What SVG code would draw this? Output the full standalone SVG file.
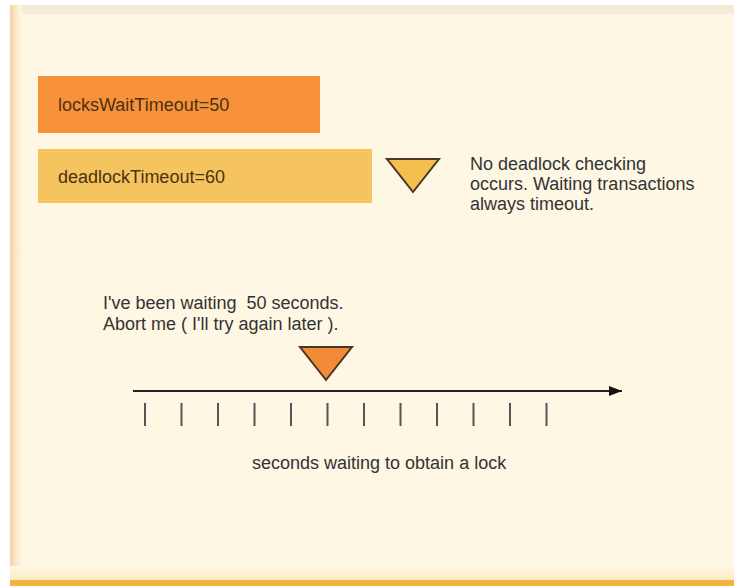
<svg xmlns="http://www.w3.org/2000/svg" width="734" height="586" viewBox="0 0 734 586">
  <defs>
    <linearGradient id="leftBorder" x1="0" y1="0" x2="1" y2="0">
      <stop offset="0" stop-color="#f6d7ab"/>
      <stop offset="1" stop-color="#fef7e4"/>
    </linearGradient>
    <linearGradient id="bottomBand" x1="0" y1="0" x2="0" y2="1">
      <stop offset="0" stop-color="#fef7e4"/>
      <stop offset="1" stop-color="#fcecbf"/>
    </linearGradient>
    <marker id="arrow" markerWidth="13" markerHeight="10" refX="13" refY="5" orient="auto" markerUnits="userSpaceOnUse">
      <path d="M0,0 L13,5 L0,10 Z" fill="#111"/>
    </marker>
    <style>
      text { font-family: "Liberation Sans", Arial, sans-serif; font-size: 18px; }
      .boxlabel { fill: #4a3214; }
      .note { fill: #333333; }
      .tri { stroke: #4a3520; stroke-width: 2; stroke-linejoin: miter; }
      .tick { stroke: #555; stroke-width: 2; }
    </style>
  </defs>

  <!-- panel background -->
  <rect x="0" y="0" width="734" height="586" fill="#ffffff"/>
  <rect x="10" y="5" width="724" height="581" fill="#fef7e4"/>
  <rect x="10" y="5" width="724" height="9" fill="#f4ebd8"/>
  <rect x="10" y="5" width="12" height="581" fill="url(#leftBorder)"/>
  <rect x="10" y="5" width="3" height="581" fill="#f5d6a8"/>
  <rect x="10" y="566" width="724" height="14" fill="url(#bottomBand)"/>
  <rect x="10" y="580" width="724" height="6" fill="#f0b443"/>

  <g id="locksWaitTimeout">
    <rect x="38" y="76" width="282" height="57" fill="#f7923a"/>
    <text class="boxlabel" x="58" y="111">locksWaitTimeout=50</text>
  </g>

  <g id="deadlockTimeout">
    <rect x="38" y="149" width="334" height="54" fill="#f5c45f"/>
    <text class="boxlabel" x="58" y="183">deadlockTimeout=60</text>
  </g>

  <g id="deadlockMarker">
    <polygon class="tri" points="387,159 439,159 413,192" fill="#f5bf4f"/>
  </g>

  <g id="deadlockNote">
    <text class="note" x="470" y="170">No deadlock checking</text>
    <text class="note" x="470" y="190">occurs. Waiting transactions</text>
    <text class="note" x="470" y="210">always timeout.</text>
  </g>

  <g id="waitNote">
    <text class="note" x="103" y="309" xml:space="preserve">I've been waiting  50 seconds.</text>
    <text class="note" x="103" y="330">Abort me ( I'll try again later ).</text>
  </g>

  <g id="timeoutMarker">
    <polygon class="tri" points="300,347 352,347 326,380" fill="#f28b38"/>
  </g>

  <g id="connectors">
    <line x1="133" y1="391" x2="622" y2="391" stroke="#222" stroke-width="2" marker-end="url(#arrow)"/>
    <g class="tick">
      <line x1="145" y1="403" x2="145" y2="426"/>
      <line x1="181.5" y1="403" x2="181.5" y2="426"/>
      <line x1="218" y1="403" x2="218" y2="426"/>
      <line x1="254.5" y1="403" x2="254.5" y2="426"/>
      <line x1="291" y1="403" x2="291" y2="426"/>
      <line x1="327.5" y1="403" x2="327.5" y2="426"/>
      <line x1="364" y1="403" x2="364" y2="426"/>
      <line x1="400.5" y1="403" x2="400.5" y2="426"/>
      <line x1="437" y1="403" x2="437" y2="426"/>
      <line x1="473.5" y1="403" x2="473.5" y2="426"/>
      <line x1="510" y1="403" x2="510" y2="426"/>
      <line x1="546.5" y1="403" x2="546.5" y2="426"/>
    </g>
  </g>

  <g id="axisLabel">
    <text class="note" x="252" y="469">seconds waiting to obtain a lock</text>
  </g>
</svg>
